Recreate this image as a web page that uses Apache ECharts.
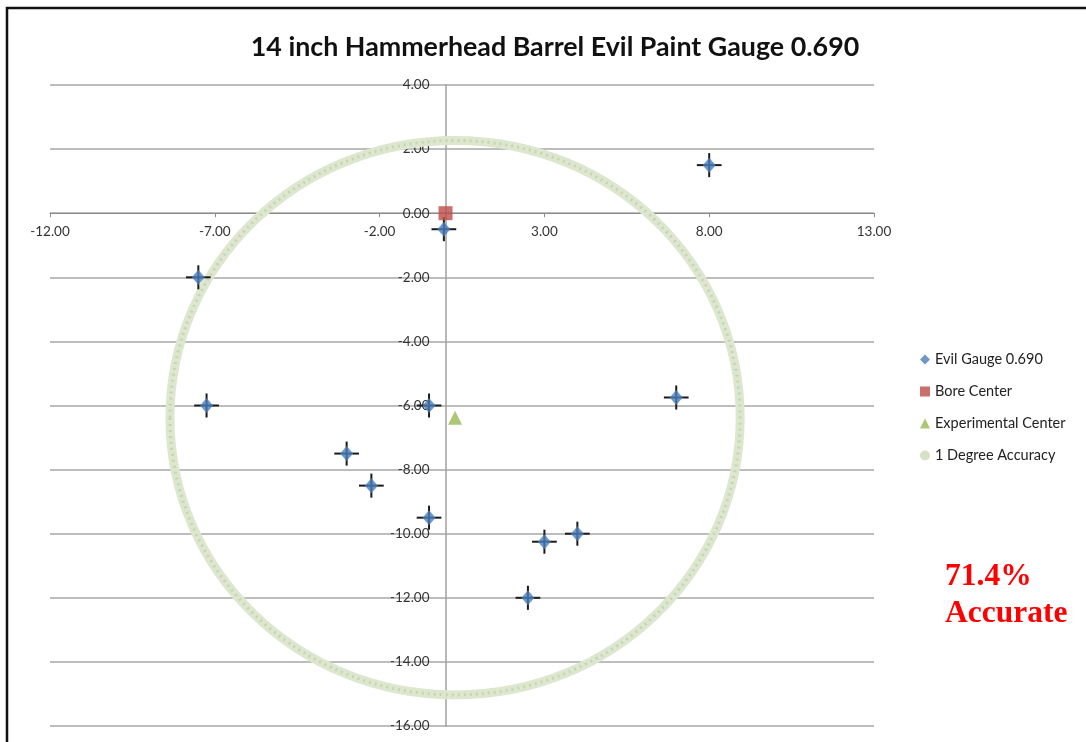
<!DOCTYPE html>
<html>
<head>
<meta charset="utf-8">
<script src="https://cdn.jsdelivr.net/npm/echarts@6/dist/echarts.min.js"></script>
<style>
  html, body { margin: 0; padding: 0; background: #fff; }
  #chart { width: 1086px; height: 742px; }
</style>
</head>
<body>
<div id="chart"></div>
<script>
// measured shots (x, y)
const gaugeX = [8, -0.05, -7.5, -7.25, -0.5, -3, -2.25, -0.5, 3, 4, 2.5, 7];
const gaugeY = [1.5, -0.5, -2, -6, -6, -7.5, -8.5, -9.5, -10.25, -10, -12, -5.75];
const errorBar = 0.375;
const boreCenter = [0, 0];
const experimentalCenter = [0.29, -6.38];
const accuracyRadius = 8.65;
const xTicks = [-12, -7, -2, 3, 8, 13];
const yTicks = [-16, -14, -12, -10, -8, -6, -4, -2, 0, 2, 4];

const gaugePoints = gaugeX.map((x, i) => [x, gaugeY[i]]);

const gridLeft = 50, gridRight = 212, gridTop = 85, gridBottom = 16;
const W = 1086, H = 742;
const xMin = xTicks[0], xMax = xTicks[xTicks.length - 1];
const yMin = yTicks[0], yMax = yTicks[yTicks.length - 1];
// move axes onto the zero lines (axes cross at 0,0)
const yAxisOffset = -(0 - xMin) / (xMax - xMin) * (W - gridLeft - gridRight);
const xAxisOffset = -(0 - yMin) / (yMax - yMin) * (H - gridTop - gridBottom);

let myChart = echarts.init(document.getElementById('chart'));

const option = {
  animation: false,
  title: {
    text: '14 inch Hammerhead Barrel Evil Paint Gauge 0.690',
    left: 550,
    top: 29,
    textAlign: 'center',
    textStyle: { fontFamily: 'Lato', fontWeight: 'bold', fontSize: 26.8, color: '#111' }
  },
  graphic: [
    { type: 'polyline', shape: { points: [[7, 742], [7, 8], [1086, 8]] },
      style: { stroke: '#111', lineWidth: 2.5, fill: 'none' } },
    { type: 'text', left: 945, top: 558,
      style: { text: '71.4%\nAccurate', fill: '#ff0000', font: 'bold 31.5px "Liberation Serif"', lineHeight: 37 } }
  ],
  legend: {
    orient: 'vertical',
    left: 915,
    top: 347,
    itemWidth: 10,
    itemHeight: 10,
    itemGap: 17,
    textStyle: { fontFamily: 'Lato', fontSize: 14.5, color: '#222' },
    data: [
      { name: 'Evil Gauge 0.690', icon: 'diamond' },
      { name: 'Bore Center', icon: 'rect' },
      { name: 'Experimental Center', icon: 'triangle' },
      { name: '1 Degree Accuracy', icon: 'circle' }
    ]
  },
  grid: { left: gridLeft, right: gridRight, top: gridTop, bottom: gridBottom },
  xAxis: {
    type: 'value',
    min: xMin,
    max: xMax,
    interval: 5,
    offset: xAxisOffset,
    axisLine: { onZero: false, lineStyle: { color: '#8a8a8a', width: 1 } },
    axisTick: { show: true, length: 4, lineStyle: { color: '#8a8a8a' } },
    axisLabel: {
      margin: 11,
      color: '#333',
      fontFamily: 'Lato',
      fontSize: 13.5,
      formatter: v => v.toFixed(2)
    },
    splitLine: { show: false }
  },
  yAxis: {
    type: 'value',
    min: yMin,
    max: yMax,
    interval: 2,
    offset: yAxisOffset,
    axisLine: { show: true, onZero: false, lineStyle: { color: '#a0a0a0', width: 1.5 } },
    axisTick: { show: false },
    axisLabel: {
      margin: 16,
      color: '#333',
      fontFamily: 'Lato',
      fontSize: 13.5,
      formatter: v => v.toFixed(2)
    },
    splitLine: { show: true, lineStyle: { color: '#bdbdbd', width: 2 } }
  },
  series: [
    {
      name: '1 Degree Accuracy',
      type: 'custom',
      itemStyle: { color: '#d6e2c4' },
      data: [[experimentalCenter[0], experimentalCenter[1], accuracyRadius]],
      renderItem: function (params, api) {
        const c = api.coord([api.value(0), api.value(1)]);
        const s = api.size([api.value(2), api.value(2)]);
        return {
          type: 'group',
          children: [
            { type: 'ellipse', shape: { cx: c[0], cy: c[1], rx: s[0], ry: s[1] },
              style: { fill: 'none', stroke: '#dde7cf', lineWidth: 9 } },
            { type: 'ellipse', shape: { cx: c[0], cy: c[1], rx: s[0], ry: s[1] },
              style: { fill: 'none', stroke: '#c6d5ae', lineWidth: 3, lineDash: [2, 4] } }
          ]
        };
      },
      z: 1
    },
    {
      name: 'errorBars',
      type: 'custom',
      data: gaugePoints,
      renderItem: function (params, api) {
        const x = api.value(0), y = api.value(1);
        const l = api.coord([x - errorBar, y]);
        const r = api.coord([x + errorBar, y]);
        const t = api.coord([x, y + errorBar]);
        const b = api.coord([x, y - errorBar]);
        const st = { stroke: '#1a1a1a', lineWidth: 2 };
        return {
          type: 'group',
          children: [
            { type: 'line', shape: { x1: l[0], y1: l[1], x2: r[0], y2: r[1] }, style: st },
            { type: 'line', shape: { x1: t[0], y1: t[1], x2: b[0], y2: b[1] }, style: st }
          ]
        };
      },
      z: 2
    },
    {
      name: 'Evil Gauge 0.690',
      type: 'scatter',
      symbol: 'diamond',
      symbolSize: [13, 15],
      itemStyle: { color: '#4a7ebb' },
      data: gaugePoints,
      z: 3
    },
    {
      name: 'Bore Center',
      type: 'scatter',
      symbol: 'rect',
      symbolSize: 14,
      itemStyle: { color: '#be4b48' },
      data: [boreCenter],
      z: 4
    },
    {
      name: 'Experimental Center',
      type: 'scatter',
      symbol: 'triangle',
      symbolSize: 14,
      itemStyle: { color: '#98b954' },
      data: [experimentalCenter],
      z: 4
    }
  ]
};
myChart.setOption(option);
</script>
</body>
</html>
